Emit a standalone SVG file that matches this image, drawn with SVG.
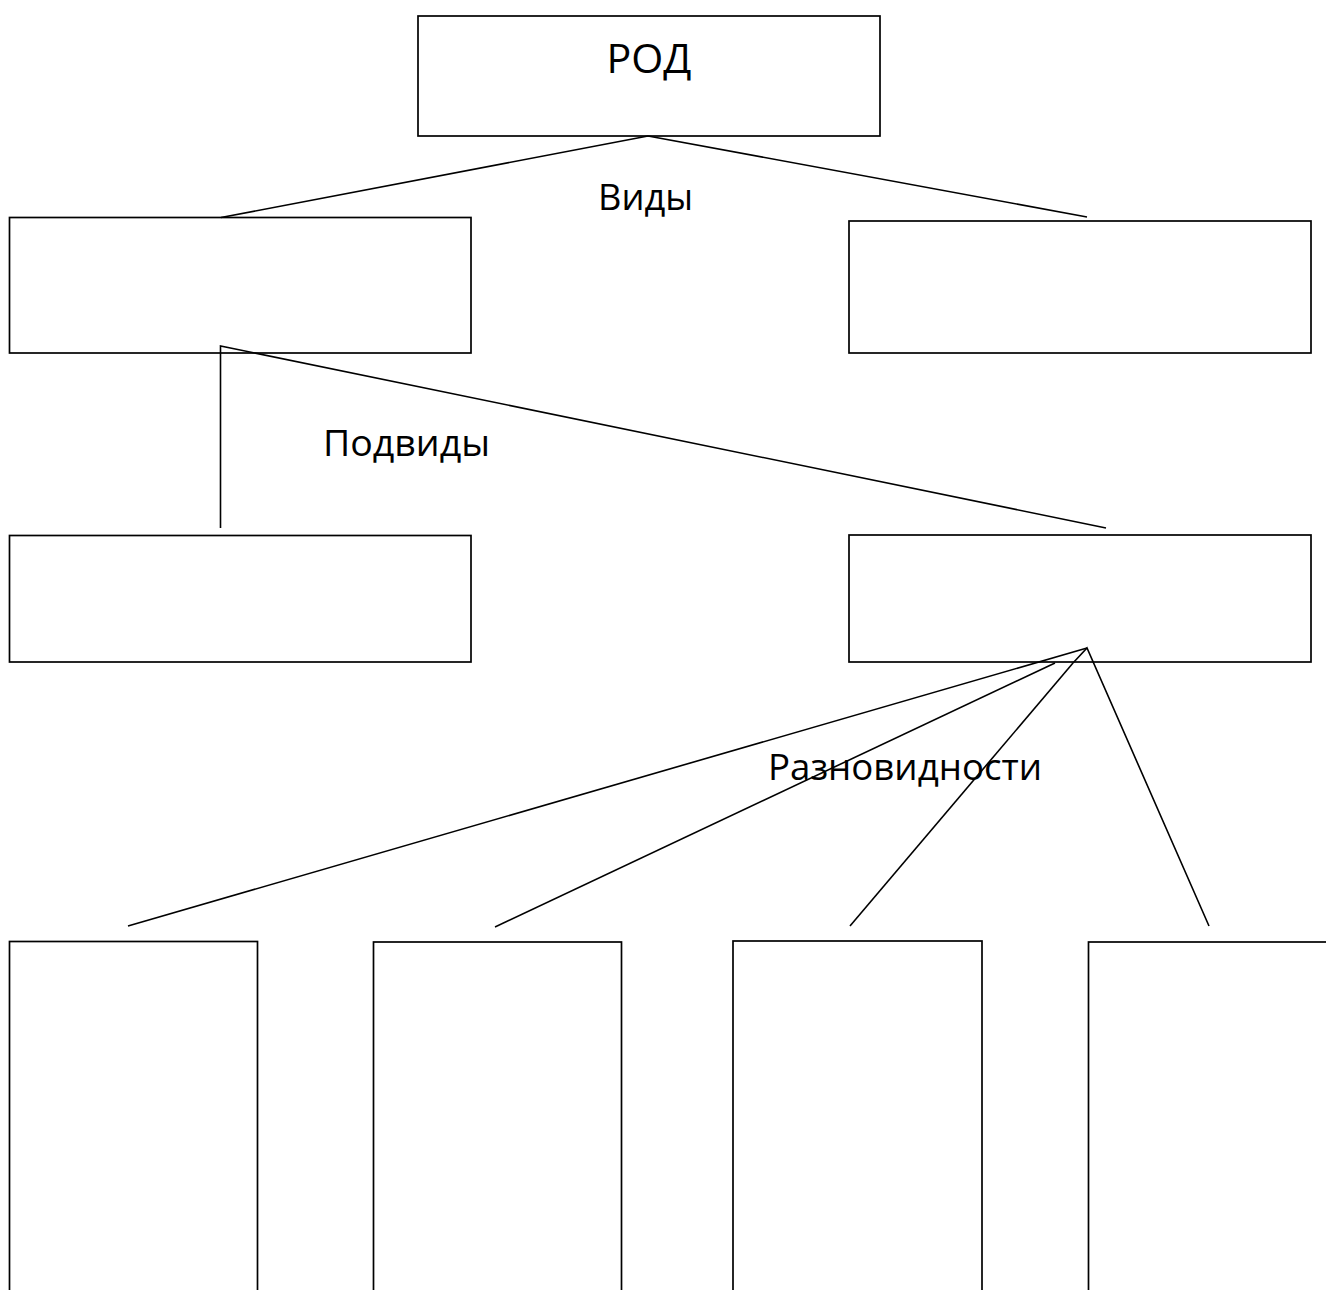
<svg xmlns="http://www.w3.org/2000/svg" width="1326" height="1290" viewBox="0 0 1326 1290">
<style>
.box{fill:#fff;stroke:#000;stroke-width:1.7}
.ln{stroke:#000;stroke-width:1.6;fill:none}
.t{font-family:"Open Sans","Noto Sans","Liberation Sans",sans-serif;fill:#000;text-anchor:middle}
</style>
<rect width="1326" height="1290" fill="#fff"/>
<g id="node-rod">
<rect class="box" x="418" y="16" width="462" height="120"/>
<text class="t" x="649" y="73" font-size="40" textLength="85" lengthAdjust="spacingAndGlyphs">РОД</text>
</g>
<g id="label-vidy">
<text class="t" x="645.5" y="210" font-size="36" textLength="95" lengthAdjust="spacingAndGlyphs">Виды</text>
</g>
<g id="node-vid-left">
<rect class="box" x="9.5" y="217.5" width="461.5" height="135.5"/>
</g>
<g id="node-vid-right">
<rect class="box" x="849" y="221" width="462" height="132"/>
</g>
<g id="label-podvidy">
<text class="t" x="406.5" y="456" font-size="36" textLength="167" lengthAdjust="spacingAndGlyphs">Подвиды</text>
</g>
<g id="node-podvid-left">
<rect class="box" x="9.5" y="535.5" width="461.5" height="126.5"/>
</g>
<g id="node-podvid-right">
<rect class="box" x="849" y="535" width="462" height="127"/>
</g>
<g id="label-raznovidnosti">
<text class="t" x="905" y="780" font-size="36" textLength="274" lengthAdjust="spacingAndGlyphs">Разновидности</text>
</g>
<g id="node-r1">
<rect class="box" x="9.5" y="941.5" width="248" height="400"/>
</g>
<g id="node-r2">
<rect class="box" x="373.5" y="942" width="248" height="400"/>
</g>
<g id="node-r3">
<rect class="box" x="733" y="941" width="249" height="400"/>
</g>
<g id="node-r4">
<rect class="box" x="1088.5" y="942" width="260" height="400"/>
</g>
<g id="connectors">
<line class="ln" x1="648" y1="136" x2="221" y2="217.5"/>
<line class="ln" x1="648" y1="136" x2="1087" y2="217"/>
<polyline class="ln" points="220.5,528 220.5,346 1106,528"/>
<line class="ln" x1="1087" y1="648" x2="128" y2="926"/>
<line class="ln" x1="1055" y1="663" x2="495" y2="927"/>
<line class="ln" x1="1073" y1="663" x2="850" y2="926"/>
<polyline class="ln" points="1073,663 1087,648 1209,926"/>
</g>
</svg>
